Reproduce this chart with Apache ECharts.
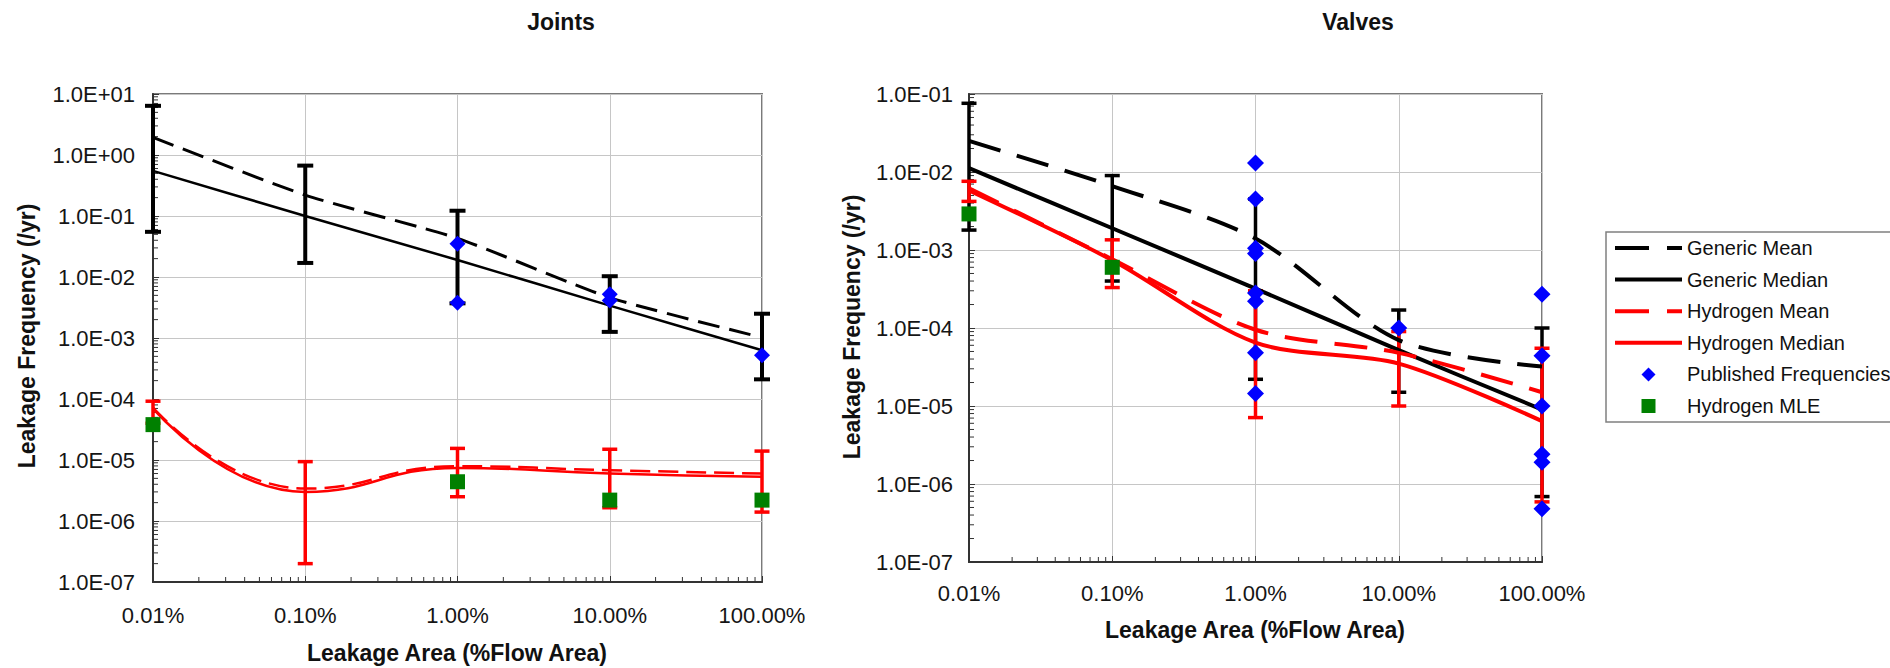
<!DOCTYPE html>
<html>
<head>
<meta charset="utf-8">
<script src="https://cdn.jsdelivr.net/npm/echarts@6/dist/echarts.min.js"></script>
<style>
html,body{margin:0;padding:0;background:#fff;}
#chart{width:1890px;height:668px;}
</style>
</head>
<body>
<div id="chart"></div>
<script>
// ---------- DATA ----------
const xValues = [0.01, 0.1, 1, 10, 100];            // leakage area (% flow area)
const xTickLabels = ['0.01%', '0.10%', '1.00%', '10.00%', '100.00%'];

// Joints
const jointsGenericMean   = [1.95, 0.22, 0.043, 0.0046, 0.00102];
const jointsGenericMedian = [0.55, 0.10, 0.019, 0.0034, 0.00063];
const jointsH2Mean        = [7.2e-5, 3.4e-6, 7.9e-6, 6.8e-6, 6.0e-6];
const jointsH2Median      = [7.0e-5, 3.0e-6, 7.4e-6, 6.0e-6, 5.3e-6];
const jointsGenericLow    = [0.055, 0.017, 3.7e-3, 1.26e-3, 2.1e-4];
const jointsGenericHigh   = [6.4, 0.67, 0.122, 1.03e-2, 2.5e-3];
const jointsH2Low         = [4.0e-5, 2.0e-7, 2.5e-6, 1.65e-6, 1.4e-6];
const jointsH2High        = [9.2e-5, 9.4e-6, 1.55e-5, 1.5e-5, 1.4e-5];
const jointsPublishedX    = [1, 1, 10, 10, 100];
const jointsPublishedY    = [0.035, 0.0038, 0.0052, 0.0041, 5.2e-4];
const jointsMleX          = [0.01, 1, 10, 100];
const jointsMleY          = [3.8e-5, 4.4e-6, 2.2e-6, 2.2e-6];

// Valves
const valvesGenericMean   = [2.5e-2, 6.6e-3, 1.4e-3, 7.0e-5, 3.2e-5];
const valvesGenericMedian = [1.12e-2, 1.9e-3, 3.2e-4, 5.2e-5, 9.0e-6];
const valvesH2Mean        = [6.2e-3, 7.6e-4, 9.5e-5, 4.8e-5, 1.5e-5];
const valvesH2Median      = [5.8e-3, 7.4e-4, 6.5e-5, 3.5e-5, 6.4e-6];
const valvesGenericLow    = [1.8e-3, 4.0e-4, 2.2e-5, 1.5e-5, 6.9e-7];
const valvesGenericHigh   = [7.6e-2, 9.0e-3, 4.5e-3, 1.7e-4, 1.0e-4];
const valvesH2Low         = [4.2e-3, 3.3e-4, 7.1e-6, 1.0e-5, 5.9e-7];
const valvesH2High        = [7.6e-3, 1.35e-3, 3.0e-4, 9.0e-5, 5.5e-5];
const valvesPublishedX    = [1, 1, 1, 1, 1, 1, 1, 1, 10, 100, 100, 100, 100, 100, 100];
const valvesPublishedY    = [1.3e-2, 4.5e-3, 1.05e-3, 9.0e-4, 2.8e-4, 2.2e-4, 4.8e-5, 1.45e-5,
                             1.0e-4, 2.7e-4, 4.4e-5, 1.0e-5, 2.4e-6, 1.9e-6, 4.8e-7];
const valvesMleX          = [0.01, 0.1];
const valvesMleY          = [2.9e-3, 6.0e-4];

const jointsYRange = [1e-7, 10];
const valvesYRange = [1e-7, 0.1];
const legendNames = ['Generic Mean', 'Generic Median', 'Hydrogen Mean', 'Hydrogen Median', 'Published Frequencies', 'Hydrogen MLE'];

// ---------- HELPERS ----------
const FONT = '"Liberation Sans", Arial, sans-serif';
const pairs = (xs, ys) => xs.map((x, i) => [x, ys[i]]);
const xFmt = v => xTickLabels[Math.round(Math.log10(v)) + 2] || '';
const yFmt = v => {
  const e = Math.round(Math.log10(v));
  return '1.0E' + (e < 0 ? '-' : '+') + String(Math.abs(e)).padStart(2, '0');
};

function errorSeries(name, idx, lows, highs, color, lw, cap) {
  return {
    type: 'custom', name: name, xAxisIndex: idx, yAxisIndex: idx, z: 2, clip: false, silent: true,
    encode: { x: 0, y: [1, 2] },
    data: xValues.map((x, i) => [x, lows[i], highs[i]]),
    renderItem: function (params, api) {
      const x = api.value(0);
      const a = api.coord([x, api.value(1)]);
      const b = api.coord([x, api.value(2)]);
      const st = { stroke: color, lineWidth: lw };
      return { type: 'group', children: [
        { type: 'line', shape: { x1: a[0], y1: a[1], x2: b[0], y2: b[1] }, style: st },
        { type: 'line', shape: { x1: a[0] - cap / 2, y1: a[1], x2: a[0] + cap / 2, y2: a[1] }, style: st },
        { type: 'line', shape: { x1: b[0] - cap / 2, y1: b[1], x2: b[0] + cap / 2, y2: b[1] }, style: st }
      ] };
    }
  };
}

function minorTicks(idx, yRange) {
  const xs = [], ys = [];
  for (let k = -2; k < 2; k++) for (let d = 2; d <= 9; d++) xs.push([d * Math.pow(10, k), yRange[0], 0]);
  const k0 = Math.round(Math.log10(yRange[0])), k1 = Math.round(Math.log10(yRange[1]));
  for (let k = k0; k < k1; k++) for (let d = 2; d <= 9; d++) ys.push([0.01, d * Math.pow(10, k), 1]);
  return {
    type: 'custom', xAxisIndex: idx, yAxisIndex: idx, z: 1, clip: false, silent: true,
    encode: { x: 0, y: 1 },
    data: xs.concat(ys),
    renderItem: function (params, api) {
      const p = api.coord([api.value(0), api.value(1)]);
      const vert = api.value(2) === 0;
      return { type: 'line',
        shape: vert ? { x1: p[0], y1: p[1], x2: p[0], y2: p[1] - 5 } : { x1: p[0], y1: p[1], x2: p[0] + 5, y2: p[1] },
        style: { stroke: '#333', lineWidth: 1 } };
    }
  };
}

function lineSeries(name, idx, ys, color, width, dash, smooth) {
  return {
    type: 'line', name: name, xAxisIndex: idx, yAxisIndex: idx, z: 3, clip: false,
    symbol: 'none', smooth: smooth, data: pairs(xValues, ys),
    lineStyle: { color: color, width: width, type: dash || 'solid' },
    itemStyle: { color: color }
  };
}

function scatterSeries(name, idx, xs, ys, symbol, size, color) {
  return {
    type: 'scatter', name: name, xAxisIndex: idx, yAxisIndex: idx, z: 4, clip: false,
    symbol: symbol, symbolSize: size, data: pairs(xs, ys),
    itemStyle: { color: color, opacity: 1 }
  };
}

function xAxis(idx, margin) {
  return {
    type: 'log', logBase: 10, gridIndex: idx, min: 0.01, max: 100,
    axisLine: { show: true, onZero: false, lineStyle: { color: '#333', width: 2 } },
    axisTick: { show: true, inside: true, length: 6, lineStyle: { color: '#333' } },
    axisLabel: { formatter: xFmt, margin: margin, fontSize: 22, color: '#151515', fontFamily: FONT, showMinLabel: true, showMaxLabel: true, hideOverlap: false },
    splitLine: { show: true, lineStyle: { color: '#c6c6c6', width: 1 } }
  };
}
function yAxis(idx, range, margin) {
  return {
    type: 'log', logBase: 10, gridIndex: idx, min: range[0], max: range[1],
    splitNumber: Math.round(Math.log10(range[1] / range[0])),
    axisLine: { show: true, onZero: false, lineStyle: { color: '#333', width: 2 } },
    axisTick: { show: true, inside: true, length: 6, lineStyle: { color: '#333' } },
    axisLabel: { formatter: yFmt, margin: margin, fontSize: 22, color: '#151515', fontFamily: FONT, showMinLabel: true, showMaxLabel: true },
    splitLine: { show: true, lineStyle: { color: '#c6c6c6', width: 1 } }
  };
}

function label(text, x, y, rot, size, weight) {
  return { type: 'text', x: x, y: y, rotation: rot || 0,
    style: { text: text, fill: '#111', font: (weight || 'bold') + ' ' + size + 'px ' + FONT, align: 'center', verticalAlign: 'middle' } };
}

const BLACK = '#000000', RED = '#ff0000', BLUE = '#0000ff', GREEN = '#008000';

const series = [
  // Valves (index 1) first so legend icons inherit its styles
  errorSeries('valvesGenericErr', 1, valvesGenericLow, valvesGenericHigh, BLACK, 3.5, 15),
  errorSeries('valvesH2Err', 1, valvesH2Low, valvesH2High, RED, 3.5, 15),
  lineSeries('Generic Mean', 1, valvesGenericMean, BLACK, 4, [33, 17], 0.3),
  lineSeries('Generic Median', 1, valvesGenericMedian, BLACK, 4, null, 0.3),
  lineSeries('Hydrogen Mean', 1, valvesH2Mean, RED, 4, [33, 17], 0.3),
  lineSeries('Hydrogen Median', 1, valvesH2Median, RED, 4, null, 0.3),
  scatterSeries('Published Frequencies', 1, valvesPublishedX, valvesPublishedY, 'diamond', 17, BLUE),
  scatterSeries('Hydrogen MLE', 1, valvesMleX, valvesMleY, 'rect', 15, GREEN),
  // Joints (index 0)
  errorSeries('jointsGenericErr', 0, jointsGenericLow, jointsGenericHigh, BLACK, 4, 16),
  errorSeries('jointsH2Err', 0, jointsH2Low, jointsH2High, RED, 3.5, 15),
  lineSeries('Generic Mean', 0, jointsGenericMean, BLACK, 3, [22, 10], 0.2),
  lineSeries('Generic Median', 0, jointsGenericMedian, BLACK, 2.5, null, 0.2),
  lineSeries('Hydrogen Mean', 0, jointsH2Mean, RED, 2.5, [20, 8], 0.5),
  lineSeries('Hydrogen Median', 0, jointsH2Median, RED, 2.5, null, 0.5),
  scatterSeries('Published Frequencies', 0, jointsPublishedX, jointsPublishedY, 'diamond', 16, BLUE),
  scatterSeries('Hydrogen MLE', 0, jointsMleX, jointsMleY, 'rect', 15, GREEN),
  minorTicks(0, jointsYRange),
  minorTicks(1, valvesYRange)
];

const legendStyles = {
  'Generic Mean':    { color: BLACK, type: [34, 18] },
  'Generic Median':  { color: BLACK, type: 'solid' },
  'Hydrogen Mean':   { color: RED, type: [34, 18] },
  'Hydrogen Median': { color: RED, type: 'solid' }
};
const legendIcons = {
  'Published Frequencies': { icon: 'path://M0,-1L1,0L0,1L-1,0Z', color: BLUE },
  'Hydrogen MLE':          { icon: 'path://M0,0L1,0L1,1L0,1Z', color: GREEN }
};
const legendData = legendNames.map(n => legendStyles[n]
  ? { name: n, itemStyle: { color: 'rgba(0,0,0,0)', borderWidth: 0, opacity: 0 },
      lineStyle: { color: legendStyles[n].color, width: 4, type: legendStyles[n].type, opacity: 1 } }
  : { name: n, icon: legendIcons[n].icon, itemStyle: { color: legendIcons[n].color } });

const chart = echarts.init(document.getElementById('chart'), null, { renderer: 'svg' });
chart.setOption({
  animation: false,
  backgroundColor: '#ffffff',
  textStyle: { fontFamily: FONT },
  grid: [
    { left: 153, top: 94, width: 609, height: 488, show: true, borderColor: '#7a7a7a', borderWidth: 2, backgroundColor: 'transparent' },
    { left: 969, top: 94, width: 573, height: 468, show: true, borderColor: '#7a7a7a', borderWidth: 2, backgroundColor: 'transparent' }
  ],
  xAxis: [xAxis(0, 22), xAxis(1, 20)],
  yAxis: [yAxis(0, jointsYRange, 18), yAxis(1, valvesYRange, 16)],
  legend: {
    data: legendData,
    orient: 'vertical', left: 1606, top: 232,
    padding: [6, 4, 6, 7],
    itemWidth: 67, itemHeight: 14, itemGap: 11.6,
    symbolKeepAspect: true,
    borderColor: '#808080', borderWidth: 1.5,
    selectedMode: false,
    textStyle: { fontSize: 20, color: '#111', fontFamily: FONT, lineHeight: 20 }
  },
  graphic: [
    label('Joints', 561, 22, 0, 23),
    label('Valves', 1358, 22, 0, 23),
    label('Leakage Area (%Flow Area)', 457, 653, 0, 23),
    label('Leakage Area (%Flow Area)', 1255, 630, 0, 23),
    label('Leakage Frequency (/yr)', 27, 336, Math.PI / 2, 23),
    label('Leakage Frequency (/yr)', 852, 327, Math.PI / 2, 23)
  ],
  series: series
});
</script>
</body>
</html>
